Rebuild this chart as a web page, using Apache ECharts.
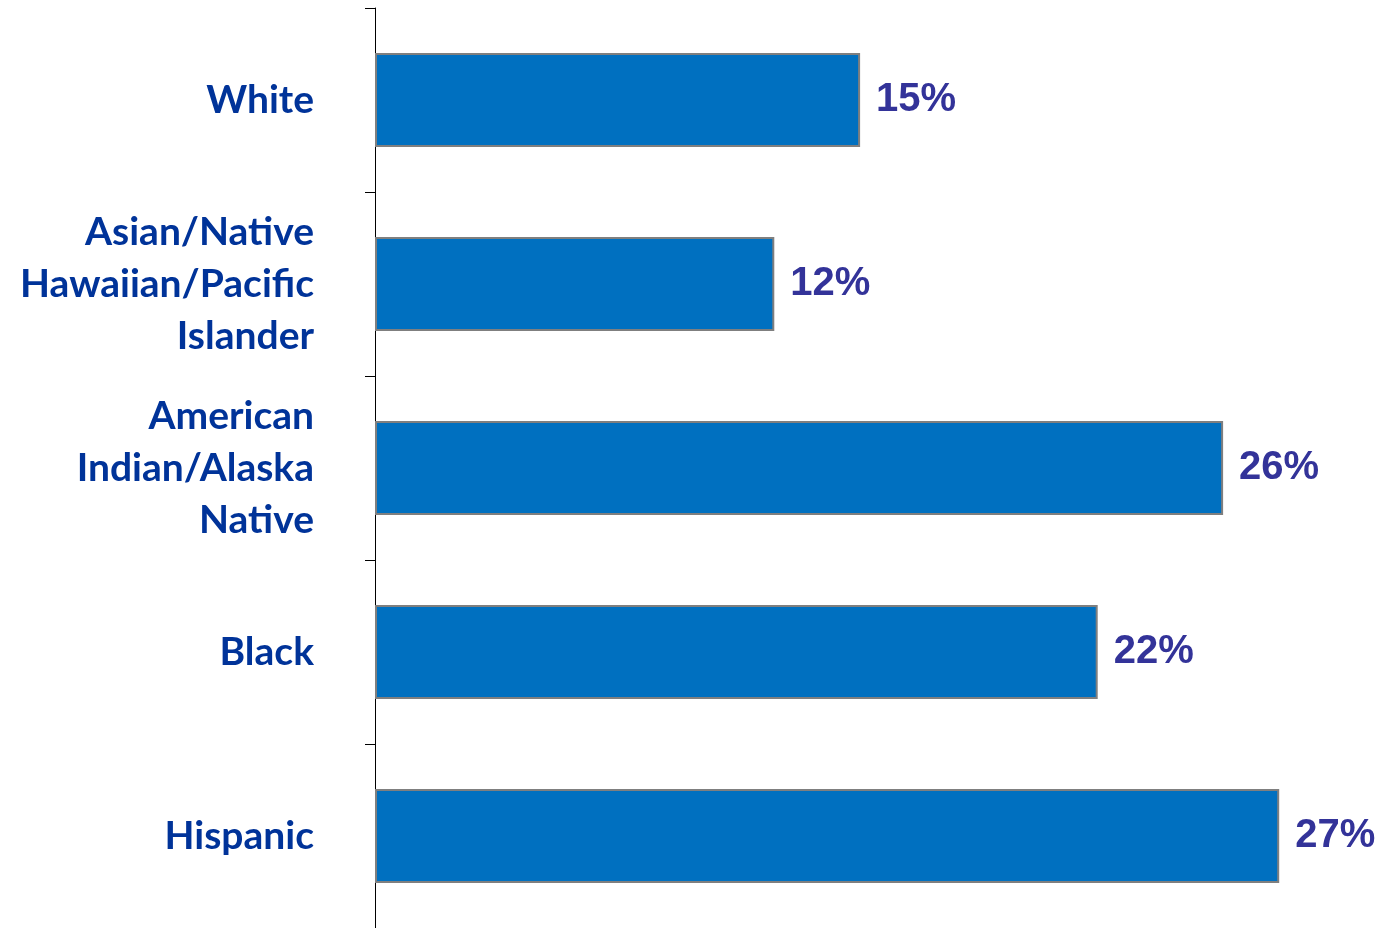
<!DOCTYPE html>
<html>
<head>
<meta charset="utf-8">
<script src="https://cdn.jsdelivr.net/npm/echarts@6/dist/echarts.min.js"></script>
<style>
html,body{margin:0;padding:0;background:#fff;}
#chart{width:1380px;height:928px;}
</style>
</head>
<body>
<div id="chart"></div>
<script>
const categories = ["White", "Asian/Native\nHawaiian/Pacific\nIslander", "American\nIndian/Alaska\nNative", "Black", "Hispanic"];
const values = [14.7, 12.1, 25.7, 21.9, 27.4];
const valueLabels = ["15%", "12%", "26%", "22%", "27%"];

const chart = echarts.init(document.getElementById('chart'));
chart.setOption({
  animation: false,
  grid: { left: 375, right: 15, top: 8, bottom: 0, containLabel: false },
  xAxis: { type: 'value', min: 0, max: 30, show: false },
  yAxis: {
    type: 'category',
    inverse: true,
    data: categories,
    axisLine: { show: true, lineStyle: { color: '#000', width: 1 } },
    axisTick: { show: true, inside: false, length: 10, lineStyle: { color: '#000', width: 1 } },
    axisLabel: {
      margin: 61,
      color: '#003399',
      fontFamily: 'Lato',
      fontWeight: 'bold',
      fontSize: 39,
      lineHeight: 52,
      align: 'right'
    }
  },
  series: [{
    type: 'bar',
    data: values,
    barWidth: 94,
    itemStyle: { color: '#0070C0', borderColor: '#7F7F7F', borderWidth: 2 },
    label: {
      show: true,
      position: 'right',
      distance: 16,
      padding: [6, 0, 0, 0],
      color: '#333399',
      fontFamily: 'Liberation Sans',
      fontWeight: 'bold',
      fontSize: 40,
      formatter: p => valueLabels[p.dataIndex]
    }
  }]
});
</script>
</body>
</html>
